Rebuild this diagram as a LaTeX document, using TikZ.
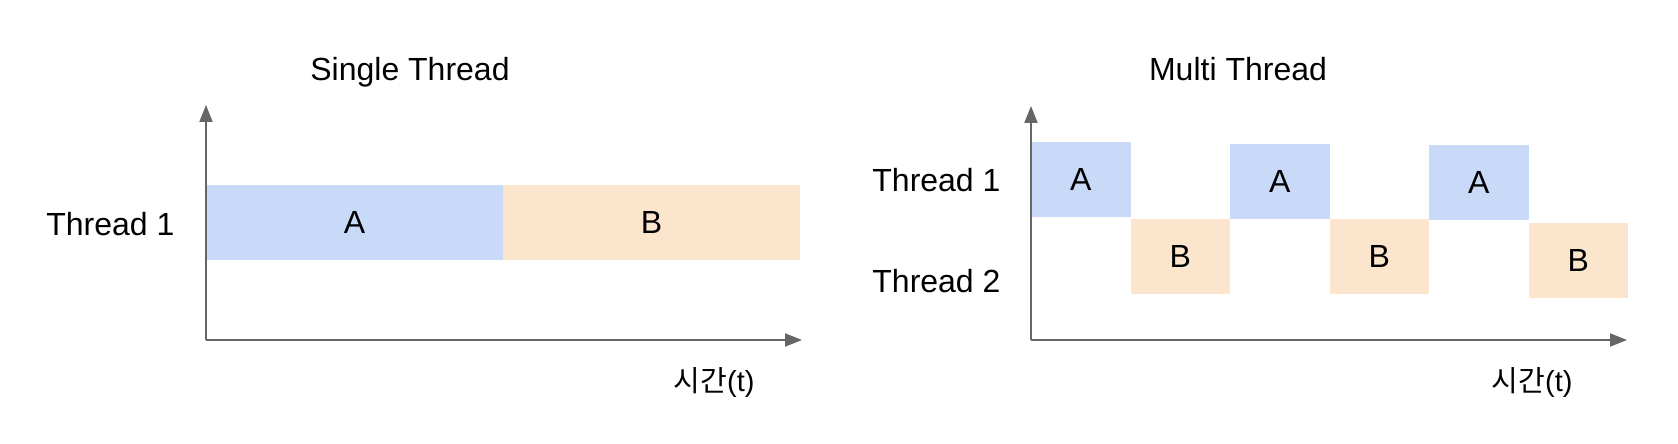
\documentclass[tikz,border=0pt]{standalone}
\usepackage{fontspec}
\setmainfont{Liberation Sans}
\newfontfamily\krfont{Noto Sans CJK KR}
\usepackage{tikz}
\usetikzlibrary{arrows.meta}
\definecolor{threadA}{HTML}{C9DAF8}
\definecolor{threadB}{HTML}{FCE5CD}
\definecolor{axisgray}{HTML}{666666}

\begin{document}
\begin{tikzpicture}[x=0.5pt, y=0.5pt, >={Triangle[length=8.5pt, width=6.5pt]},
    font=\fontsize{16}{19}\selectfont,
    axis/.style={->, line width=1pt, axisgray},
    title/.style={anchor=base, inner sep=0pt},
    rowlabel/.style={anchor=west, inner sep=0pt},
    timelabel/.style={anchor=base east, inner sep=0pt, font=\fontsize{14.5}{17}\selectfont}]
  \useasboundingbox (0,0) rectangle (1678,444);

  % Single thread: blocks
  \fill[threadA] (206,184) rectangle (503,259);
  \fill[threadB] (503,184) rectangle (800,259);
  \node (st-a) at (354.5,221.5) {A};
  \node (st-b) at (651.5,221.5) {B};

  % Single thread: axes and labels
  \draw[axis] (206,104) -- (206,339);
  \draw[axis] (206,104) -- (802,104);
  \node[title] (st-title) at (410,363) {Single Thread};
  \node[rowlabel] (st-t1) at (46,220) {Thread 1};
  \node[timelabel] (st-time) at (755,52) {{\krfont 시간}(t)};

  % Multi thread: blocks alternate between the two rows
  \foreach \x/\y/\lbl/\col [count=\i] in {1031/227/A/threadA, 1130.5/150/B/threadB,
      1230/225/A/threadA, 1329.5/150/B/threadB, 1429/224/A/threadA, 1528.5/146/B/threadB} {
    \fill[\col] (\x,\y) rectangle ++(99.5,74.5);
    \node (mt-\i) at (\x+49.75,\y+37.25) {\lbl};
  }

  % Multi thread: axes and labels
  \draw[axis] (1031,104) -- (1031,338);
  \draw[axis] (1031,104) -- (1627,104);
  \node[title] (mt-title) at (1238,363) {Multi Thread};
  \node[rowlabel] (mt-t1) at (872,264) {Thread 1};
  \node[rowlabel] (mt-t2) at (872,163) {Thread 2};
  \node[timelabel] (mt-time) at (1573,52) {{\krfont 시간}(t)};
\end{tikzpicture}
\end{document}
